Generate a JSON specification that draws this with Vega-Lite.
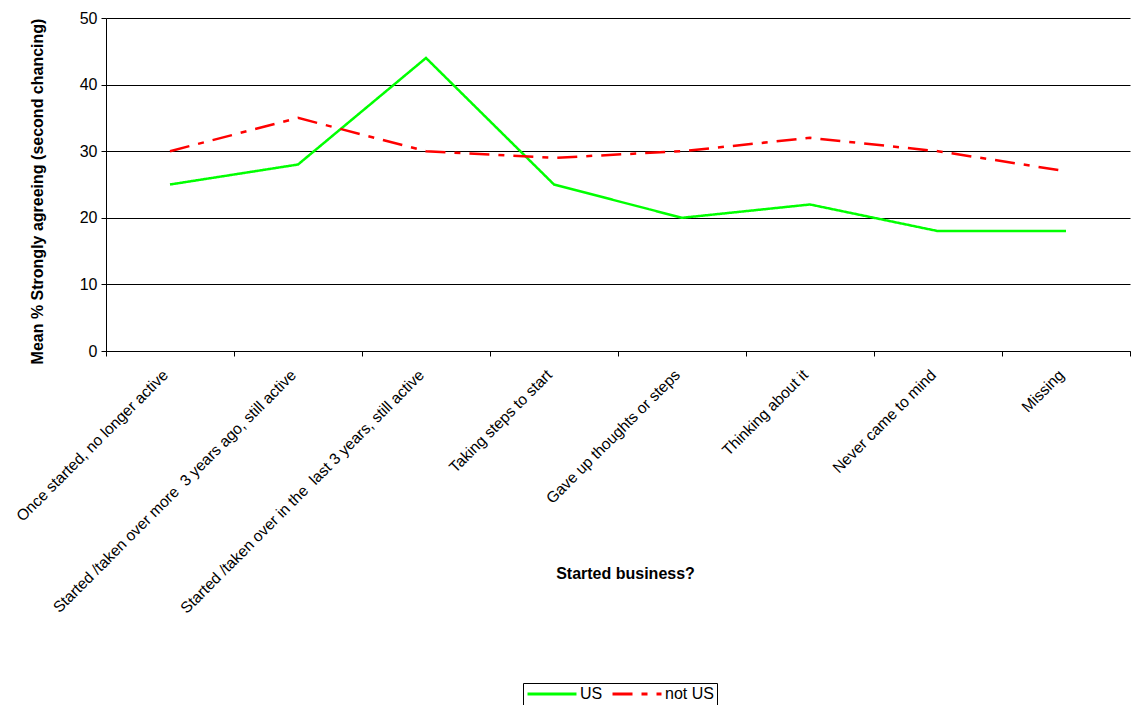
{
  "$schema": "https://vega.github.io/schema/vega-lite/v6.json",
  "width": 1024,
  "height": 333,
  "autosize": {"type": "none"},
  "padding": {"left": 106, "top": 18, "right": 1, "bottom": 354},
  "background": "white",
  "config": {
    "view": {"stroke": null},
    "font": "Liberation Sans",
    "axis": {"labelFont": "Liberation Sans", "titleFont": "Liberation Sans", "labelColor": "black", "titleColor": "black", "domainColor": "black", "tickColor": "black"}
  },
  "data": {
    "values": [
      {"cat": "Once started, no longer active", "i": 1, "group": "US", "value": 25},
      {"cat": "Started /taken over more \u00a03 years ago, still active", "i": 2, "group": "US", "value": 28},
      {"cat": "Started /taken over in the \u00a0last 3 years, still active", "i": 3, "group": "US", "value": 44},
      {"cat": "Taking steps to start", "i": 4, "group": "US", "value": 25},
      {"cat": "Gave up thoughts or steps", "i": 5, "group": "US", "value": 20},
      {"cat": "Thinking about it", "i": 6, "group": "US", "value": 22},
      {"cat": "Never came to mind", "i": 7, "group": "US", "value": 18},
      {"cat": "Missing", "i": 8, "group": "US", "value": 18},
      {"cat": "Once started, no longer active", "i": 1, "group": "not US", "value": 30},
      {"cat": "Started /taken over more \u00a03 years ago, still active", "i": 2, "group": "not US", "value": 35},
      {"cat": "Started /taken over in the \u00a0last 3 years, still active", "i": 3, "group": "not US", "value": 30},
      {"cat": "Taking steps to start", "i": 4, "group": "not US", "value": 29},
      {"cat": "Gave up thoughts or steps", "i": 5, "group": "not US", "value": 30},
      {"cat": "Thinking about it", "i": 6, "group": "not US", "value": 32},
      {"cat": "Never came to mind", "i": 7, "group": "not US", "value": 30},
      {"cat": "Missing", "i": 8, "group": "not US", "value": 27}
    ]
  },
  "mark": {"type": "line", "strokeWidth": 2.5},
  "encoding": {
    "x": {
      "field": "cat",
      "type": "nominal",
      "sort": {"field": "i"},
      "scale": {"type": "band", "paddingInner": 0, "paddingOuter": 0},
      "axis": {
        "title": "Started business?",
        "titleFontSize": 16,
        "titleFontWeight": "bold",
        "titleY": 214,
        "titleX": 519,
        "labelAngle": -45,
        "labelAlign": "right",
        "labelBaseline": "middle",
        "labelFontSize": 15.5,
        "labelPadding": 16,
        "labelOffset": -5,
        "labelLimit": 500,
        "tickBand": "extent",
        "tickSize": 5,
        "grid": false,
        "domainWidth": 1
      }
    },
    "y": {
      "field": "value",
      "type": "quantitative",
      "scale": {"domain": [0, 50], "nice": false},
      "axis": {
        "title": "Mean % Strongly agreeing (second chancing)",
        "titleFontSize": 16,
        "titleFontWeight": "bold",
        "titlePadding": 34,
        "titleY": 173,
        "values": [0, 10, 20, 30, 40, 50],
        "labelFontSize": 16,
        "labelPadding": 4,
        "tickSize": 5,
        "grid": true,
        "gridColor": "black",
        "gridOpacity": 1,
        "gridWidth": 1
      }
    },
    "color": {
      "field": "group",
      "type": "nominal",
      "scale": {"domain": ["US", "not US"], "range": ["#00ff00", "#ff0000"]},
      "legend": {
        "title": null,
        "orient": "none",
        "legendX": 417,
        "legendY": 665,
        "direction": "horizontal",
        "symbolType": "stroke",
        "symbolSize": 2400,
        "symbolStrokeWidth": 3,
        "clipHeight": 16,
        "labelFontSize": 16,
        "labelColor": "black",
        "labelOffset": 2,
        "columnPadding": 8,
        "strokeColor": "black",
        "padding": 3,
        "fillColor": "white"
      }
    },
    "strokeDash": {
      "field": "group",
      "type": "nominal",
      "scale": {"domain": ["US", "not US"], "range": [[1, 0], [20, 9, 6, 9]]},
      "legend": null
    }
  }
}
